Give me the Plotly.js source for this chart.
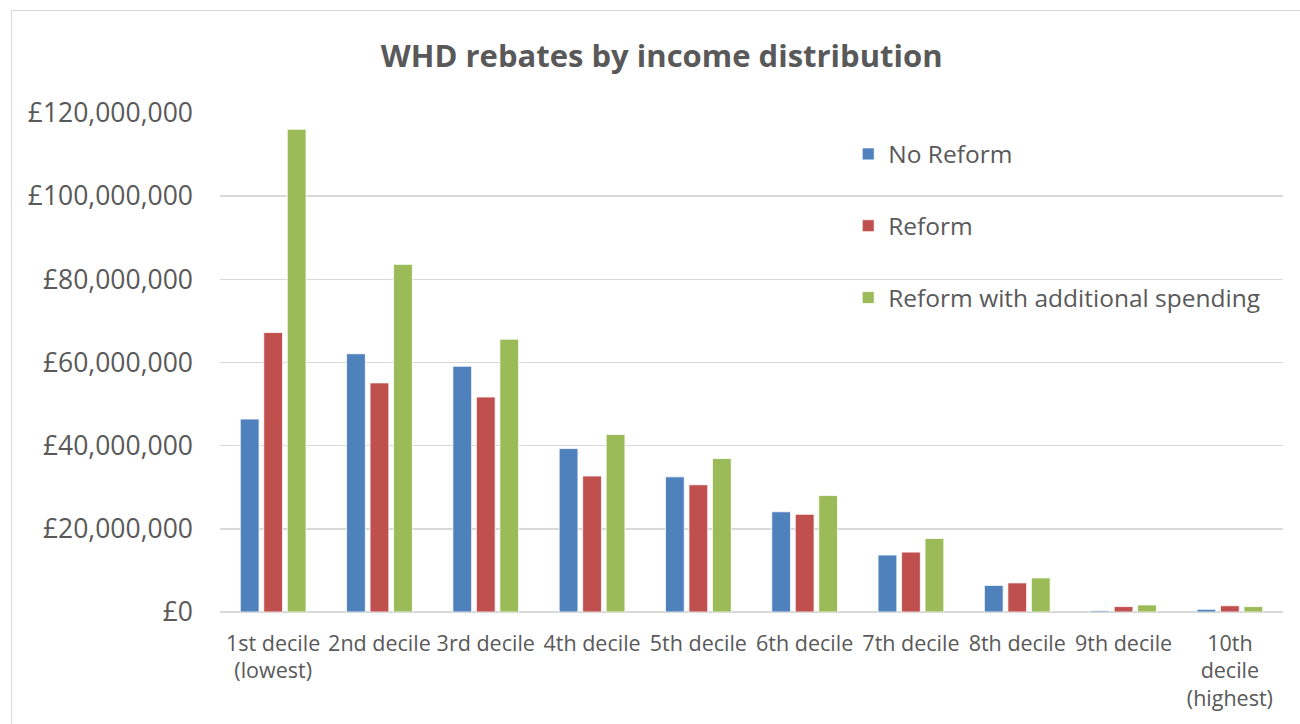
<!DOCTYPE html>
<html>
<head>
<meta charset="utf-8">
<script src="https://cdn.plot.ly/plotly-3.0.1.min.js"></script>
<style>
  html, body { margin: 0; padding: 0; background: #ffffff; }
  #wrap { position: relative; width: 1300px; height: 724px; overflow: hidden; }
  #chart { position: absolute; left: 0; top: 0; width: 1300px; height: 724px; }
  #frame { position: absolute; left: 11px; top: 10px; width: 1290px; height: 730px;
           border: 1.5px solid #d9d9d9; pointer-events: none; box-sizing: border-box; }
</style>
</head>
<body>
<div id="wrap">
  <div id="chart"></div>
  <div id="frame"></div>
</div>
<script>
const categories = [
  "1st decile<br>(lowest)", "2nd decile", "3rd decile", "4th decile", "5th decile",
  "6th decile", "7th decile", "8th decile", "9th decile", "10th<br>decile<br>(highest)"
];
const seriesNames = ["No Reform", "Reform", "Reform with additional spending"];
const noReform = [46.4e6, 62.1e6, 59.1e6, 39.3e6, 32.5e6, 24.1e6, 13.7e6, 6.4e6, 0.3e6, 0.65e6];
const reform = [67.2e6, 55.1e6, 51.7e6, 32.7e6, 30.6e6, 23.5e6, 14.4e6, 7.0e6, 1.3e6, 1.5e6];
const reformSpending = [116.1e6, 83.6e6, 65.6e6, 42.7e6, 36.9e6, 28.0e6, 17.7e6, 8.2e6, 1.7e6, 1.3e6];
const colors = ["#4F81BD", "#C0504D", "#9BBB59"];

const seriesValues = [noReform, reform, reformSpending];
const FONT = "'Open Sans', sans-serif";
const traces = seriesValues.map((vals, i) => ({
  type: "bar",
  name: seriesNames[i],
  legendgroup: "g" + i,
  x: categories,
  y: vals,
  marker: { color: colors[i], line: { color: "#ffffff", width: 0.8 } },
  hoverinfo: "skip"
}));

const layout = {
  width: 1300,
  height: 724,
  paper_bgcolor: "rgba(0,0,0,0)",
  plot_bgcolor: "rgba(0,0,0,0)",
  margin: { l: 220, r: 17, t: 113, b: 112 },
  font: { family: FONT, color: "#595959" },
  title: {
    text: "<b>WHD rebates by income distribution</b>",
    font: { family: FONT, size: 31, color: "#595959" },
    x: 0.509, xanchor: "center", xref: "container",
    y: 0.922, yanchor: "middle", yref: "container"
  },
  barmode: "group",
  bargap: 0.337,
  bargroupgap: 0.2,
  xaxis: {
    type: "category",
    tickfont: { family: FONT, size: 21.5, color: "#595959" },
    showgrid: false,
    showline: false,
    ticks: "",
    ticklabelstandoff: 16,
    automargin: false,
    fixedrange: true
  },
  yaxis: {
    range: [0, 120e6],
    dtick: 20e6,
    tick0: 0,
    tickprefix: "£",
    tickformat: ",d",
    separatethousands: true,
    tickfont: { family: FONT, size: 26.5, color: "#595959" },
    gridcolor: "#d9d9d9",
    gridwidth: 1.5,
    zeroline: true,
    zerolinecolor: "#d9d9d9",
    zerolinewidth: 1.5,
    showline: false,
    ticks: "",
    ticklabelstandoff: 26,
    automargin: false,
    fixedrange: true
  },
  showlegend: true,
  legend: {
    x: 0.591, xanchor: "left",
    y: 0.963, yanchor: "top",
    bgcolor: "rgba(0,0,0,0)",
    font: { family: FONT, size: 24.5, color: "#595959" },
    traceorder: "grouped",
    tracegroupgap: 37,
    itemwidth: 30,
    itemclick: false,
    itemdoubleclick: false
  },
  separators: ".,"
};

Plotly.newPlot("chart", traces, layout, { displayModeBar: false, staticPlot: true });
</script>
</body>
</html>
